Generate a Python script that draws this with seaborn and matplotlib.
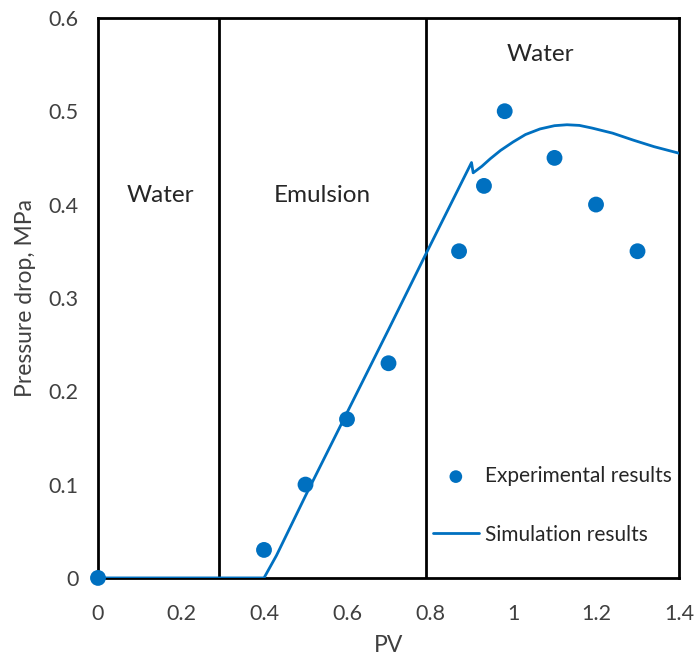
import matplotlib
matplotlib.use("Agg")
import matplotlib.pyplot as plt
import seaborn as sns
import pandas as pd

# Experimental measurements
exp_pv = [0.0, 0.40, 0.50, 0.60, 0.70, 0.87, 0.93, 0.98, 1.10, 1.20, 1.30]
exp_dp = [0.0, 0.03, 0.10, 0.17, 0.23, 0.35, 0.42, 0.50, 0.45, 0.40, 0.35]

# Simulated pressure drop
sim_pv = [0.0, 0.40, 0.41, 0.43, 0.50, 0.60, 0.70, 0.79, 0.90, 0.904,
          0.925, 0.945, 0.97, 1.00, 1.03, 1.065, 1.10, 1.13, 1.16, 1.19,
          1.24, 1.29, 1.34, 1.40]
sim_dp = [0.0, 0.0, 0.008, 0.024, 0.088, 0.177, 0.266, 0.347, 0.445, 0.434,
          0.441, 0.449, 0.458, 0.467, 0.475, 0.481, 0.4845, 0.4855, 0.4848, 0.482,
          0.4765, 0.469, 0.462, 0.455]

# Injection stage boundaries and labels
stage_bounds = [0.292, 0.79]
stage_labels = ["Water", "Emulsion", "Water"]
stage_label_pos = [(0.15, 0.41), (0.54, 0.41), (1.065, 0.561)]

BLUE = "#0070C0"
TEXT = "#404040"

sns.set_theme(style="white")
plt.rcParams["font.family"] = ["Lato", "DejaVu Sans"]

fig = plt.figure(figsize=(6.95, 6.62), dpi=100)
ax = fig.add_axes([0.141, 0.127, 0.836, 0.846])

sim_df = pd.DataFrame({"PV": sim_pv, "dp": sim_dp})
exp_df = pd.DataFrame({"PV": exp_pv, "dp": exp_dp})

for xb in stage_bounds:
    ax.axvline(xb, color="black", lw=2, zorder=1)

sns.lineplot(data=sim_df, x="PV", y="dp", ax=ax, color=BLUE, lw=2,
             sort=False, estimator=None, label="Simulation results", zorder=3)
sns.scatterplot(data=exp_df, x="PV", y="dp", ax=ax, color=BLUE, s=130,
                edgecolor="none", label="Experimental results", zorder=4, clip_on=False)

for txt, (tx, ty) in zip(stage_labels, stage_label_pos):
    ax.text(tx, ty, txt, ha="center", va="center", fontsize=17.5, color="#262626")

ax.set_xlim(0, 1.4)
ax.set_ylim(0, 0.6)
ax.set_xticks([0, 0.2, 0.4, 0.6, 0.8, 1.0, 1.2, 1.4])
ax.set_xticklabels(["0", "0.2", "0.4", "0.6", "0.8", "1", "1.2", "1.4"])
ax.set_yticks([0, 0.1, 0.2, 0.3, 0.4, 0.5, 0.6])
ax.set_yticklabels(["0", "0.1", "0.2", "0.3", "0.4", "0.5", "0.6"])
ax.tick_params(axis="both", length=0, labelsize=15.5, labelcolor=TEXT)
ax.tick_params(axis="x", pad=19)
ax.tick_params(axis="y", pad=14)
ax.set_xlabel("PV", fontsize=16.5, color=TEXT, labelpad=8)
ax.set_ylabel("Pressure drop, MPa", fontsize=16.5, color=TEXT, labelpad=9)

for sp in ax.spines.values():
    sp.set_color("black")
    sp.set_linewidth(2)

handles, labels = ax.get_legend_handles_labels()
order = [labels.index("Experimental results"), labels.index("Simulation results")]
ax.legend([handles[i] for i in order], [labels[i] for i in order],
          loc="lower right", bbox_to_anchor=(1.02, 0.026), frameon=False,
          fontsize=15, labelcolor="#262626", handlelength=2.2, handletextpad=0.3,
          labelspacing=1.85, markerscale=0.8)

fig.savefig("out.png", dpi=100)
